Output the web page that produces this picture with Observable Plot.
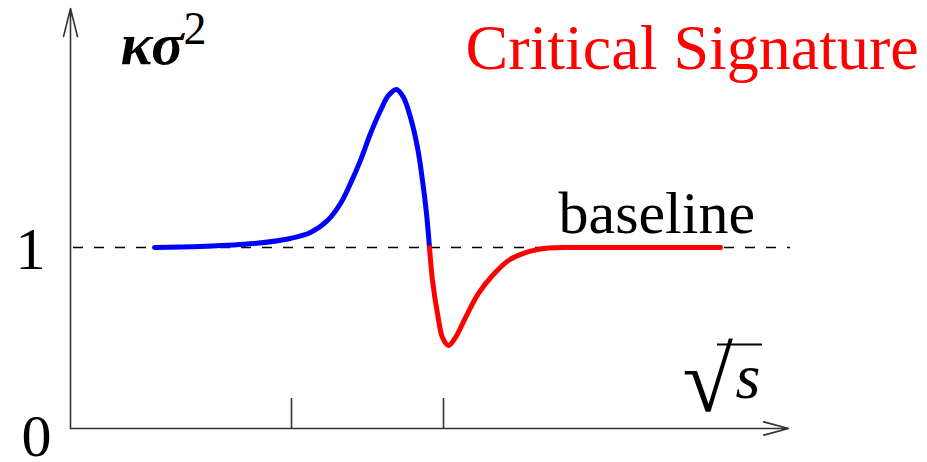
<!DOCTYPE html>
<html>
<head>
<meta charset="utf-8">
<script src="https://cdn.jsdelivr.net/npm/d3@7"></script>
<script src="https://cdn.jsdelivr.net/npm/@observablehq/plot@0.6"></script>
<style>
  html, body { margin: 0; padding: 0; background: #fff; }
  #chart svg { display: block; }
</style>
</head>
<body>
<div id="chart"></div>
<script>
// Collision energy (√s, arbitrary units) and κσ² along the rising branch
const sqrtSRise = [0.84, 1.30, 1.83, 2.20, 2.40, 2.57, 2.70, 2.80, 2.90, 3.00, 3.10, 3.18, 3.26, 3.33, 3.40, 3.47, 3.52, 3.56, 3.59];
const kappaSigma2Rise = [1.000, 1.006, 1.022, 1.050, 1.083, 1.149, 1.243, 1.354, 1.481, 1.630, 1.757, 1.840, 1.873, 1.829, 1.718, 1.552, 1.370, 1.188, 1.000];

// The dip below the baseline and the return to it
const sqrtSDip = [3.59, 3.62, 3.67, 3.72, 3.78, 3.85, 3.95, 4.08, 4.22, 4.38, 4.55, 4.78, 5.10, 6.50];
const kappaSigma2Dip = [1.000, 0.818, 0.635, 0.503, 0.459, 0.503, 0.613, 0.746, 0.845, 0.928, 0.972, 0.997, 1.000, 1.000];

// Axis marks
const xTickValues = [2.21, 3.73];
const yTickLabels = ["0", "1"];
const baselineValue = 1;

const rise = sqrtSRise.map((x, i) => ({x, y: kappaSigma2Rise[i]}));
const dip = sqrtSDip.map((x, i) => ({x, y: kappaSigma2Dip[i]}));

const xMax = 7.2;
const yMax = 420 / 181;
const serif = "Liberation Serif, Times New Roman, serif";
const axisColor = "#333";

const plot = Plot.plot({
  width: 927,
  height: 462,
  marginLeft: 70,
  marginRight: 137,
  marginTop: 8,
  marginBottom: 34,
  x: {domain: [0, xMax], axis: null},
  y: {domain: [0, yMax], axis: null},
  style: {background: "white", overflow: "visible"},
  marks: [
    // baseline κσ² = 1
    Plot.ruleY([baselineValue], {
      x1: 0, x2: xMax, stroke: "black", strokeWidth: 1.3,
      strokeDasharray: "10,11", strokeDashoffset: -3
    }),
    // axes with arrowheads
    Plot.arrow([0], {
      x1: 0, y1: 0, x2: 0, y2: yMax,
      stroke: axisColor, strokeWidth: 1.6, headLength: 27, headAngle: 28
    }),
    Plot.arrow([0], {
      x1: 0, y1: 0, x2: 7.18, y2: 0,
      stroke: axisColor, strokeWidth: 1.6, headLength: 24, headAngle: 30
    }),
    Plot.ruleX(xTickValues, {y1: 0, y2: 0.166, stroke: axisColor, strokeWidth: 1.6}),
    // curve
    Plot.line(rise, {
      x: "x", y: "y", stroke: "#0000ff", strokeWidth: 5,
      curve: "catmull-rom", strokeLinejoin: "round"
    }),
    Plot.line(dip, {
      x: "x", y: "y", stroke: "#ff0000", strokeWidth: 5,
      curve: "catmull-rom", strokeLinejoin: "round"
    }),
    // y tick labels
    Plot.text([yTickLabels[1]], {
      x: -0.40, y: 1 - 21 / 181, text: d => d, lineAnchor: "bottom",
      fontFamily: serif, fontSize: 60, fill: "black"
    }),
    Plot.text([yTickLabels[0]], {
      x: -0.34, y: -27 / 181, text: d => d, lineAnchor: "bottom",
      fontFamily: serif, fontSize: 60, fill: "black"
    }),
    // y label
    Plot.text(["κσ"], {
      x: 0.50, y: (428 - 63) / 181, text: d => d, textAnchor: "start", lineAnchor: "bottom",
      fontFamily: serif, fontSize: 60, fontStyle: "italic", fontWeight: "bold", fill: "black"
    }),
    Plot.text(["2"], {
      x: 1.13, y: (428 - 43) / 181, text: d => d, textAnchor: "start", lineAnchor: "bottom",
      fontFamily: serif, fontSize: 46, fill: "black"
    }),
    // x label: radical sign, its vinculum, and s
    Plot.text(["√"], {
      x: 6.12, y: (428 - 410) / 181, text: d => d, textAnchor: "start", lineAnchor: "bottom",
      fontFamily: serif, fontSize: 92, fill: "black"
    }),
    Plot.ruleY([0], {
      y: (428 - 344) / 181, x1: 6.47, x2: 6.92, stroke: "black", strokeWidth: 2
    }),
    Plot.text(["s"], {
      x: 6.65, y: (428 - 397) / 181, text: d => d, textAnchor: "start", lineAnchor: "bottom",
      fontFamily: serif, fontSize: 64, fontStyle: "italic", fill: "black"
    }),
    // annotations
    Plot.text(["baseline"], {
      x: 4.88, y: (428 - 232) / 181, text: d => d, textAnchor: "start", lineAnchor: "bottom",
      fontFamily: serif, fontSize: 60, fill: "black"
    }),
    Plot.text(["Critical Signature"], {
      x: 3.95, y: (428 - 68) / 181, text: d => d, textAnchor: "start", lineAnchor: "bottom",
      fontFamily: serif, fontSize: 64, fill: "#ff0000"
    })
  ]
});

document.getElementById("chart").appendChild(plot);
</script>
</body>
</html>
